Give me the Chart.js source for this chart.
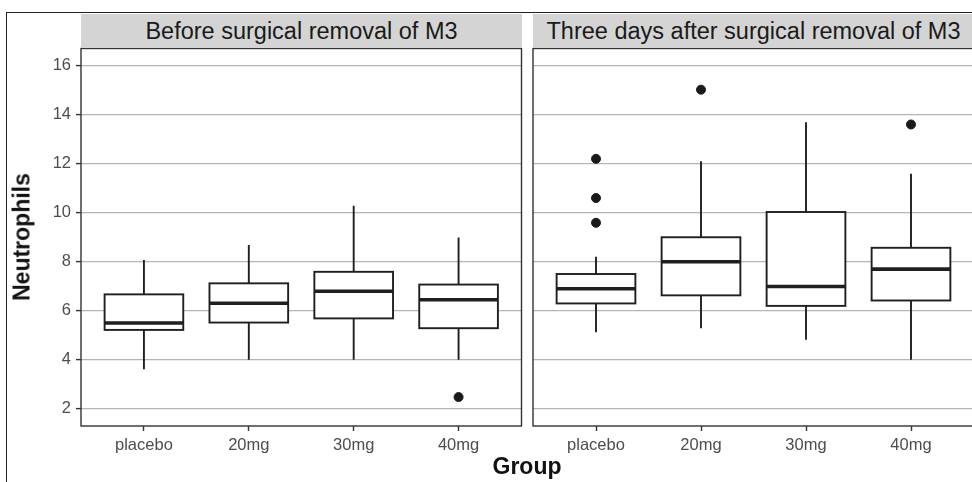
<!DOCTYPE html>
<html>
<head>
<meta charset="utf-8">
<script src="https://cdn.jsdelivr.net/npm/chart.js@4.4.1/dist/chart.umd.min.js"></script>
<style>
  html, body { margin: 0; padding: 0; background: #fff; }
  body { width: 972px; height: 482px; position: relative; overflow: hidden; font-family: "Liberation Sans", Arial, sans-serif; }
  canvas { position: absolute; top: 0; }
  #frame { position: absolute; left: 6px; top: 12px; width: 1000px; height: 500px; border: 1.5px solid #222; }
  .strip { position: absolute; top: 14px; height: 33px; background: #d4d4d4; color: #1a1a1a;
           font-size: 23.5px; line-height: 34px; text-align: center; white-space: nowrap; }
  .axtitle { position: absolute; font-weight: bold; font-size: 23px; color: #111; white-space: nowrap; }
</style>
</head>
<body>
<div id="frame"></div>
<canvas id="left" width="527" height="482" style="left:0;width:527px;height:482px"></canvas>
<canvas id="right" width="460" height="482" style="left:527px;width:460px;height:482px"></canvas>
<div class="strip" style="left:81px;width:441px">Before surgical removal of M3</div>
<div class="strip" style="left:533px;width:441px">Three days after surgical removal of M3</div>
<div class="axtitle" id="ytitle" style="left:22px;top:237px;transform:translate(-50%,-50%) rotate(-90deg)">Neutrophils</div>
<div class="axtitle" style="left:527px;top:466px;transform:translate(-50%,-50%)">Group</div>
<script>
let groups = ['placebo', '20mg', '30mg', '40mg'];
let yTicks = [2, 4, 6, 8, 10, 12, 14, 16];

// before surgery
let beforeLow  = [3.62, 4.0, 4.0, 4.0];
let beforeQ1   = [5.22, 5.52, 5.69, 5.29];
let beforeMed  = [5.5, 6.31, 6.8, 6.45];
let beforeQ3   = [6.67, 7.12, 7.59, 7.07];
let beforeHigh = [8.07, 8.68, 10.29, 8.99];
let beforeOut  = [[], [], [], [2.48]];

// three days after
let afterLow  = [5.12, 5.29, 4.82, 4.0];
let afterQ1   = [6.3, 6.63, 6.2, 6.42];
let afterMed  = [6.9, 8.0, 6.99, 7.7];
let afterQ3   = [7.5, 9.0, 10.03, 8.57];
let afterHigh = [8.2, 12.1, 13.69, 11.59];
let afterOut  = [[12.2, 10.6, 9.59], [15.02], [], [13.6]];

Chart.defaults.font.family = '"Liberation Sans", Arial, sans-serif';

let boxPlugin = {
    id: 'boxes',
    beforeDatasetsDraw(chart) {
        let box = chart.options.plugins.boxes;
        let xs = chart.scales.x, ys = chart.scales.y;
        let ctx = chart.ctx;
        let half = xs.getPixelForValue(1.375) - xs.getPixelForValue(1);
        ctx.save();
        ctx.strokeStyle = '#1f1f1f';
        for (let i = 0; i < groups.length; i++) {
            let cx = xs.getPixelForValue(i + 1);
            let lo = ys.getPixelForValue(box.low[i]);
            let q1 = ys.getPixelForValue(box.q1[i]);
            let md = ys.getPixelForValue(box.med[i]);
            let q3 = ys.getPixelForValue(box.q3[i]);
            let hi = ys.getPixelForValue(box.high[i]);
            ctx.lineWidth = 1.9;
            ctx.beginPath();
            ctx.moveTo(cx, hi); ctx.lineTo(cx, q3);
            ctx.moveTo(cx, q1); ctx.lineTo(cx, lo);
            ctx.stroke();
            ctx.fillStyle = '#fff';
            ctx.fillRect(cx - half, q3, half * 2, q1 - q3);
            ctx.strokeRect(cx - half, q3, half * 2, q1 - q3);
            ctx.lineWidth = 3.6;
            ctx.beginPath();
            ctx.moveTo(cx - half, md); ctx.lineTo(cx + half, md);
            ctx.stroke();
        }
        ctx.restore();
    },
    afterDraw(chart) {
        let a = chart.chartArea;
        let ctx = chart.ctx;
        ctx.save();
        ctx.strokeStyle = '#333';
        ctx.lineWidth = 1.4;
        ctx.strokeRect(a.left, a.top, a.right - a.left, a.bottom - a.top);
        ctx.restore();
    }
};

function outlierPoints(out) {
    let pts = [];
    out.forEach((vals, i) => vals.forEach(v => pts.push({x: i + 1, y: v})));
    return pts;
}

function makePanel(id, low, q1, med, q3, high, out, showY, pad) {
    let ctx = document.getElementById(id).getContext('2d');
    return new Chart(ctx, {
        type: 'scatter',
        data: {
            datasets: [{
                data: outlierPoints(out),
                backgroundColor: '#1a1a1a',
                borderColor: '#1a1a1a',
                pointRadius: 4.5,
                pointHoverRadius: 4.5
            }]
        },
        plugins: [boxPlugin],
        options: {
            responsive: false,
            animation: false,
            layout: { padding: pad },
            plugins: {
                legend: { display: false },
                tooltip: { enabled: false },
                boxes: { low: low, q1: q1, med: med, q3: q3, high: high }
            },
            scales: {
                x: {
                    type: 'linear',
                    min: 0.4,
                    max: 4.6,
                    afterBuildTicks: (s) => { s.ticks = groups.map((g, i) => ({value: i + 1})); },
                    afterFit: (s) => { s.height = 56; },
                    border: { display: false },
                    grid: { drawOnChartArea: false, tickLength: 5, tickColor: '#333', tickWidth: 1.4 },
                    ticks: {
                        callback: (v) => groups[v - 1],
                        color: '#4d4d4d',
                        font: { size: 16.5 },
                        padding: 5,
                        maxRotation: 0,
                        autoSkip: false
                    }
                },
                y: {
                    min: 1.3,
                    max: 16.7,
                    afterBuildTicks: (s) => { s.ticks = yTicks.map(v => ({value: v})); },
                    afterFit: (s) => { s.width = showY ? 81 : 0; },
                    border: { display: false },
                    grid: {
                        color: '#b5b5b5',
                        lineWidth: 1.2,
                        drawTicks: showY,
                        tickLength: 5,
                        tickColor: '#333',
                        tickWidth: 1.4
                    },
                    ticks: {
                        display: showY,
                        color: '#4d4d4d',
                        font: { size: 16.5 },
                        padding: 5
                    }
                }
            }
        }
    });
}

makePanel('left', beforeLow, beforeQ1, beforeMed, beforeQ3, beforeHigh, beforeOut, true,
    { left: 0, right: 5.5, top: 48.5, bottom: 0 });
makePanel('right', afterLow, afterQ1, afterMed, afterQ3, afterHigh, afterOut, false,
    { left: 6, right: 13, top: 48.5, bottom: 0 });
</script>
</body>
</html>
